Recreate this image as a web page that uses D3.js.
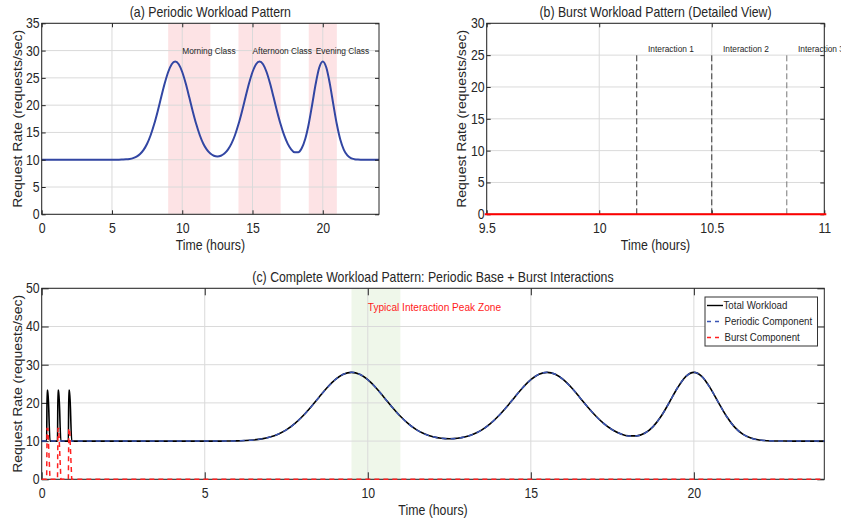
<!DOCTYPE html>
<html><head><meta charset="utf-8">
<script src="https://cdn.jsdelivr.net/npm/d3@7"></script>
<style>
body{margin:0;background:#fff}
svg text{font-family:Arial,"Liberation Sans",sans-serif;fill:#262626}
.tick text{font-size:14px}
.ttl{font-size:14px}
.lab{font-size:14px}
.ann{font-size:9.5px}
.leg{font-size:11px}
svg text.red{fill:#ff1a1a;font-size:11.5px}
</style>
</head><body>
<svg id="chart" width="841" height="520"></svg>
<script>
// ---------- data ----------
const periodicTimes = [0, 5.5, 5.75, 6, 6.25, 6.5, 6.75, 7, 7.25, 7.5, 7.75, 8, 8.25, 8.5, 8.75, 9, 9.25, 9.5,
  9.75, 10, 10.25, 10.5, 10.75, 11, 11.25, 11.5, 11.75, 12, 12.25, 12.5,
  12.75, 13, 13.25, 13.5, 13.75, 14, 14.25, 14.5, 14.75, 15, 15.25, 15.5,
  15.75, 16, 16.25, 16.5, 16.75, 17, 17.25, 17.5, 17.75, 18, 18.25, 18.5, 18.75, 19, 19.25, 19.5, 19.75, 20,
  20.25, 20.5, 20.75, 21, 21.25, 21.5, 21.75, 22, 22.25, 22.5, 22.75, 23, 24];
const periodicValues = [10, 10.0, 10.03, 10.07, 10.15, 10.30, 10.58, 11.06, 11.81, 12.93, 14.49, 16.49, 18.86, 21.44, 23.95, 26.07, 27.50, 28.00,
  27.50, 26.07, 23.95, 21.44, 18.86, 16.49, 14.49, 12.93, 11.84, 11.13, 10.73, 10.60,
  10.73, 11.13, 11.84, 12.94, 14.49, 16.49, 18.86, 21.44, 23.95, 26.07, 27.50, 28.00,
  27.50, 26.07, 23.95, 21.44, 18.86, 16.50, 14.50, 12.96, 11.91, 11.36, 11.37, 12.11, 13.80, 16.56, 20.17, 23.96, 26.89, 28.00,
  26.89, 23.95, 20.14, 16.49, 13.65, 11.81, 10.79, 10.30, 10.10, 10.03, 10.01, 10.00, 10];
const burstTimes  = [0, 0.152, 0.165, 0.19, 0.255, 0.485, 0.498, 0.523, 0.588, 0.818, 0.831, 0.856, 0.921, 24];
const burstValues = [0, 0, 13.3, 13.3, 0, 0, 13.3, 13.3, 0, 0, 13.3, 13.3, 0, 0];
const classStarts = [9, 14, 19];
const classEnds   = [12, 17, 21];
const classLabels = ["Morning Class", "Afternoon Class", "Evening Class"];
const classLabelTimes = [10, 15, 19.5];
const interactionTimes  = [10 + 10/60, 10.5, 10 + 50/60];
const interactionLabels = ["Interaction 1", "Interaction 2", "Interaction 3"];
const peakZone = [9.5, 11];
const peakZoneLabel = "Typical Interaction Peak Zone";
const ticksA_x = [0, 5, 10, 15, 20];
const ticksA_y = [0, 5, 10, 15, 20, 25, 30, 35];
const ticksB_x = [9.5, 10, 10.5, 11];
const ticksB_y = [0, 5, 10, 15, 20, 25, 30];
const ticksC_x = [0, 5, 10, 15, 20];
const ticksC_y = [0, 10, 20, 30, 40, 50];
const legendLabels = ["Total Workload", "Periodic Component", "Burst Component"];

// ---------- helpers ----------
function interp(ts, vs, t) {
  if (t <= ts[0]) return vs[0];
  for (let i = 1; i < ts.length; i++) {
    if (t <= ts[i]) { const f = (t - ts[i-1]) / (ts[i] - ts[i-1]); return vs[i-1] + f * (vs[i] - vs[i-1]); }
  }
  return vs[vs.length - 1];
}
const periodic = periodicTimes.map((t, i) => ({t, v: periodicValues[i]}));
const burst = burstTimes.map((t, i) => ({t, v: burstValues[i]}));
const allT = Array.from(new Set(periodicTimes.concat(burstTimes))).sort((a, b) => a - b);
const total = allT.map(t => ({t, v: interp(periodicTimes, periodicValues, t) + interp(burstTimes, burstValues, t)}));

const SQ = 0.88;
const svg = d3.select("#chart");
const A = {x0: 41.7, x1: 379, y0: 23.3, y1: 214.3};
const B = {x0: 486.7, x1: 824.3, y0: 23.3, y1: 214.3};
const C = {x0: 41.7, x1: 824.3, y0: 288.3, y1: 479.3};
const GRID = "#dadada", AX = "#262626";

function clip(id, b) {
  svg.append("clipPath").attr("id", id).append("rect")
    .attr("x", b.x0 - 2).attr("y", b.y0 - 2).attr("width", b.x1 - b.x0 + 4).attr("height", b.y1 - b.y0 + 4);
}
function grid(b, x, y, xt, yt) {
  const g = svg.append("g");
  g.selectAll(".gx").data(xt).join("line").attr("x1", d => x(d)).attr("x2", d => x(d))
    .attr("y1", b.y0).attr("y2", b.y1).attr("stroke", GRID).attr("stroke-width", 1);
  g.selectAll(".gy").data(yt).join("line").attr("y1", d => y(d)).attr("y2", d => y(d))
    .attr("x1", b.x0).attr("x2", b.x1).attr("stroke", GRID).attr("stroke-width", 1);
}
function axes(b, x, y, xt, yt, tl) {
  const fmt = d => String(d);
  const clean = g => { g.select(".domain").remove(); g.attr("font-size", null).attr("font-family", null); g.selectAll(".tick line").attr("stroke", AX); };
  svg.append("g").attr("transform", `translate(0,${b.y1})`)
    .call(d3.axisBottom(x).tickValues(xt).tickSize(-tl).tickPadding(8.5).tickFormat(fmt)).call(clean);
  svg.append("g").attr("transform", `translate(0,${b.y0})`)
    .call(d3.axisTop(x).tickValues(xt).tickSize(-tl).tickFormat("")).call(clean);
  svg.append("g").attr("transform", `translate(${b.x0},0)`)
    .call(d3.axisLeft(y).tickValues(yt).tickSize(-tl).tickPadding(2).tickFormat(fmt)).call(clean);
  svg.append("g").attr("transform", `translate(${b.x1},0)`)
    .call(d3.axisRight(y).tickValues(yt).tickSize(-tl).tickFormat("")).call(clean);
  svg.append("rect").attr("x", b.x0).attr("y", b.y0).attr("width", b.x1 - b.x0).attr("height", b.y1 - b.y0)
    .attr("fill", "none").attr("stroke", AX).attr("stroke-width", 1);
}
function labels(b, title, xl, yl, titleY, xlY, ylX) {
  const cx = (b.x0 + b.x1) / 2, cy = (b.y0 + b.y1) / 2;
  svg.append("text").attr("class", "ttl").attr("x", cx).attr("y", titleY).attr("text-anchor", "middle").text(title);
  svg.append("text").attr("class", "lab").attr("x", cx).attr("y", xlY).attr("text-anchor", "middle").text(xl);
  svg.append("text").attr("class", "lab ylab").attr("text-anchor", "middle")
    .attr("transform", `translate(${ylX},${cy}) scale(${SQ},1) rotate(-90)`).text(yl);
}

// ---------- (a) ----------
{
  const x = d3.scaleLinear().domain([0, 24]).range([A.x0, A.x1]);
  const y = d3.scaleLinear().domain([0, 35]).range([A.y1, A.y0]);
  clip("clipA", A);
  svg.append("g").selectAll("rect").data(classStarts).join("rect")
    .attr("x", (d) => x(d)).attr("width", (d, i) => x(classEnds[i]) - x(d))
    .attr("y", A.y0).attr("height", A.y1 - A.y0).attr("fill", "#fde3e5");
  grid(A, x, y, ticksA_x, ticksA_y);
  svg.append("path").datum(periodic).attr("clip-path", "url(#clipA)")
    .attr("d", d3.line().x(d => x(d.t)).y(d => y(d.v)).curve(d3.curveMonotoneX))
    .attr("fill", "none").attr("stroke", "#3246a3").attr("stroke-width", 2);
  svg.append("g").selectAll("text").data(classLabels).join("text").attr("class", "ann")
    .attr("x", (d, i) => x(classLabelTimes[i])).attr("y", y(30)).attr("dy", "0.35em").text(d => d);
  axes(A, x, y, ticksA_x, ticksA_y, 4);
  labels(A, "(a) Periodic Workload Pattern", "Time (hours)", "Request Rate (requests/sec)", 17, 250, 21.5);
}
// ---------- (b) ----------
{
  const x = d3.scaleLinear().domain([9.5, 11]).range([B.x0, B.x1]);
  const y = d3.scaleLinear().domain([0, 30]).range([B.y1, B.y0]);
  clip("clipB", B);
  grid(B, x, y, ticksB_x, ticksB_y);
  svg.append("g").selectAll("line").data(interactionTimes).join("line")
    .attr("x1", d => x(d)).attr("x2", d => x(d)).attr("y1", y(0)).attr("y2", y(25))
    .attr("stroke", (d, i) => i === 2 ? "#777" : "#333").attr("stroke-width", 1).attr("stroke-dasharray", "6,3");
  svg.append("g").selectAll("text").data(interactionLabels).join("text").attr("class", "ann")
    .attr("x", (d, i) => x(interactionTimes[i] + 0.05)).attr("y", y(26)).attr("dy", "0.35em").text(d => d);
  axes(B, x, y, ticksB_x, ticksB_y, 4);
  svg.append("path").datum(burst).attr("clip-path", "url(#clipB)")
    .attr("d", d3.line().x(d => x(d.t)).y(d => y(d.v)))
    .attr("fill", "none").attr("stroke", "#ff0000").attr("stroke-width", 2);
  labels(B, "(b) Burst Workload Pattern (Detailed View)", "Time (hours)", "Request Rate (requests/sec)", 17, 250, 465.5);
}
// ---------- (c) ----------
{
  const x = d3.scaleLinear().domain([0, 24]).range([C.x0, C.x1]);
  const y = d3.scaleLinear().domain([0, 50]).range([C.y1, C.y0]);
  clip("clipC", C);
  svg.append("rect").attr("x", x(peakZone[0])).attr("width", x(peakZone[1]) - x(peakZone[0]))
    .attr("y", C.y0).attr("height", C.y1 - C.y0).attr("fill", "#eff7ea");
  grid(C, x, y, ticksC_x, ticksC_y);
  svg.append("text").attr("class", "red").attr("x", x(10)).attr("y", y(45)).attr("dy", "0.35em").text(peakZoneLabel);
  axes(C, x, y, ticksC_x, ticksC_y, 7);
  const ln = d3.line().x(d => x(d.t)).y(d => y(d.v));
  svg.append("path").datum(total).attr("clip-path", "url(#clipC)")
    .attr("d", ln.curve(d3.curveMonotoneX)).attr("fill", "none").attr("stroke", "#000").attr("stroke-width", 1.6);
  svg.append("path").datum(periodic).attr("clip-path", "url(#clipC)")
    .attr("d", d3.line().x(d => x(d.t)).y(d => y(d.v)).curve(d3.curveMonotoneX))
    .attr("fill", "none").attr("stroke", "#3a55b5").attr("stroke-width", 1.5).attr("stroke-dasharray", "5,4");
  svg.append("path").datum(burst).attr("clip-path", "url(#clipC)")
    .attr("d", d3.line().x(d => x(d.t)).y(d => y(d.v)))
    .attr("fill", "none").attr("stroke", "#ff2020").attr("stroke-width", 1.5).attr("stroke-dasharray", "5,4");
  labels(C, "(c) Complete Workload Pattern: Periodic Base + Burst Interactions", "Time (hours)", "Request Rate (requests/sec)", 282.5, 515, 21.5);

  // legend
  const lg = svg.append("g");
  lg.append("rect").attr("x", 705).attr("y", 297).attr("width", 112.5).attr("height", 49)
    .attr("fill", "#fff").attr("stroke", "#333").attr("stroke-width", 1);
  const styles = [{c: "#000", d: null}, {c: "#3a55b5", d: "4,4"}, {c: "#ff2020", d: "4,4"}];
  const rowY = [305.5, 321.5, 337.5];
  legendLabels.forEach((lab, i) => {
    lg.append("line").attr("x1", 707).attr("x2", i === 0 ? 723 : 721).attr("y1", rowY[i]).attr("y2", rowY[i])
      .attr("stroke", styles[i].c).attr("stroke-width", 1.4).attr("stroke-dasharray", styles[i].d);
    lg.append("text").attr("class", "leg").attr("x", i === 0 ? 723.5 : 724.5).attr("y", rowY[i]).attr("dy", "0.35em").text(lab);
  });
}

// horizontal condensation of text (matches the reference rendering)
svg.selectAll("text").filter(function(){ return !this.classList.contains("ylab"); }).each(function() {
  const t = d3.select(this);
  const x = +t.attr("x") || 0, y = +t.attr("y") || 0;
  const tr = t.attr("transform") || "";
  t.attr("transform", `${tr} translate(${x},${y}) scale(${SQ},1) translate(${-x},${-y})`);
});
</script>
</body></html>
